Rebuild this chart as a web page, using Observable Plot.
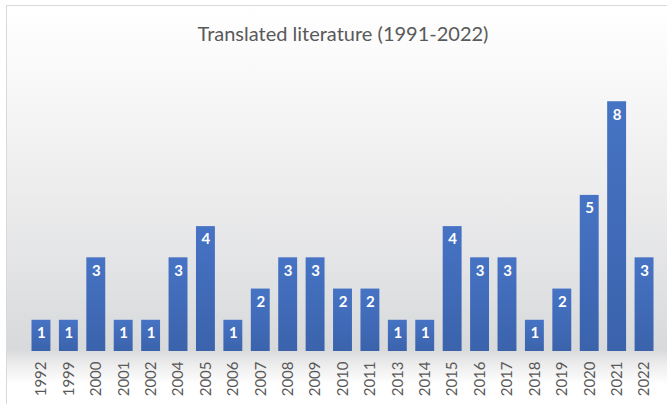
<!DOCTYPE html>
<html>
<head>
<meta charset="utf-8">
<script src="https://cdn.jsdelivr.net/npm/d3@7"></script>
<script src="https://cdn.jsdelivr.net/npm/@observablehq/plot@0.6"></script>
<style>
  html, body { margin: 0; padding: 0; background: #fff; }
  #frame {
    position: relative; width: 667px; height: 404px; overflow: hidden;
    background: #fff;
  }
  #area {
    position: absolute; left: 6px; top: 5px; width: 670px; height: 410px;
    border: 1px solid #d9d9d9; box-sizing: border-box;
    background: linear-gradient(to bottom,
      #ffffff 0px, #f8f8f8 75px, #ececed 190px, #dfe0e2 290px,
      #d8d9db 343px, #ececec 358px, #ffffff 378px);
  }
  #title {
    position: absolute; left: 0; top: 21px; width: 686px; text-align: center;
    font-family: Lato, "Open Sans", sans-serif; font-size: 20px; color: #595959;
  }
  #chart { position: absolute; left: 0; top: 0; }
</style>
</head>
<body>
<div id="frame">
  <div id="area"></div>
  <div id="title">Translated literature (1991-2022)</div>
  <div id="chart"></div>
</div>
<script>
const years = ["1992","1999","2000","2001","2002","2004","2005","2006","2007","2008","2009","2010","2011","2013","2014","2015","2016","2017","2018","2019","2020","2021","2022"];
const counts = [1,1,3,1,1,3,4,1,2,3,3,2,2,1,1,4,3,3,1,2,5,8,3];

const data = years.map((y, i) => ({year: y, count: counts[i]}));

const plot = Plot.plot({
  width: 667,
  height: 404,
  marginTop: 70,
  marginBottom: 53,
  marginLeft: 23,
  marginRight: 5,
  style: {background: "transparent", fontFamily: "Lato, 'Open Sans', sans-serif"},
  x: {domain: years, padding: 0.31, round: false, label: null},
  y: {domain: [0, 9], axis: null},
  marks: [
    Plot.barY(data, {x: "year", y: "count", fill: "url(#barGrad)"}),
    Plot.text(data, {x: "year", y: "count", text: d => String(d.count), dy: 13, fill: "white", fontWeight: "bold", fontSize: 15, lineAnchor: "middle"}),
    Plot.axisX({tickRotate: -90, tickSize: 0, tickPadding: 10, fontSize: 15, color: "#595959", label: null})
  ]
});

const svg = d3.select(plot);
const defs = svg.insert("defs", ":first-child");
const g = defs.append("linearGradient").attr("id", "barGrad")
  .attr("x1", 0).attr("y1", 0).attr("x2", 0).attr("y2", 1);
g.append("stop").attr("offset", "0%").attr("stop-color", "#4673c4");
g.append("stop").attr("offset", "100%").attr("stop-color", "#3b63ac");
document.getElementById("chart").appendChild(plot);
</script>
</body>
</html>
